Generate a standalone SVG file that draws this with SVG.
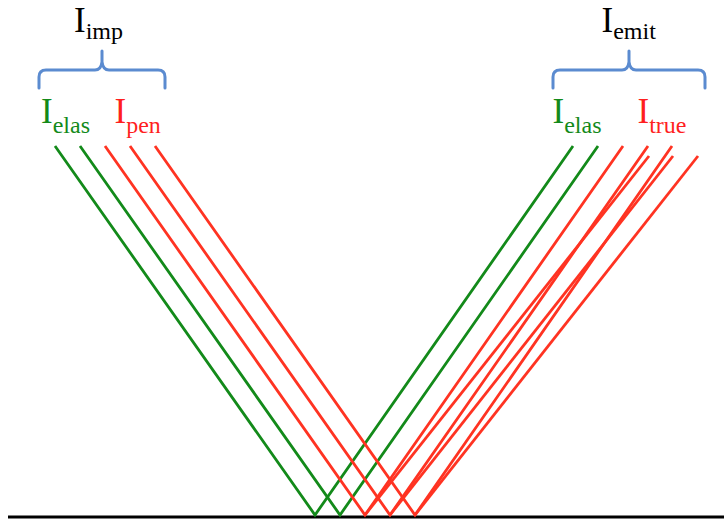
<svg xmlns="http://www.w3.org/2000/svg" width="724" height="522" viewBox="0 0 724 522">
<style>
.lbl{font-family:"Liberation Serif","Times New Roman",serif;font-size:35px}
.sub{font-size:24px}
.g{fill:#138a1a}
.r{fill:#ff1f1f}
.k{fill:#000}
.brace{fill:none;stroke:#5b8bd0;stroke-width:3;stroke-linecap:round;stroke-linejoin:round}
.lg{stroke:#138a1a;stroke-width:2.8;fill:none}
.lr{stroke:#ff3322;stroke-width:2.8;fill:none}
</style>
<rect width="724" height="522" fill="#fff"/>
<g id="label-imp">
<text class="lbl k" x="74" y="32">I<tspan class="sub" dy="7">imp</tspan></text>
<path class="brace" d="M39,88 V77 Q39,70 46,70 H95 Q101,70 102,62 V51 M102,62 Q103,70 109,70 H158 Q165,70 165,77 V88"/>
</g>
<g id="label-emit">
<text class="lbl k" x="601.5" y="32">I<tspan class="sub" dy="7">emit</tspan></text>
<path class="brace" d="M553,88 V77 Q553,70 560,70 H622 Q628,70 629,62 V51 M629,62 Q630,70 636,70 H698 Q705,70 705,77 V88"/>
</g>
<g id="label-elas-in"><text class="lbl g" x="41" y="123">I<tspan class="sub" dy="10">elas</tspan></text></g>
<g id="label-pen"><text class="lbl r" x="114.5" y="123">I<tspan class="sub" dy="10">pen</tspan></text></g>
<g id="label-elas-out"><text class="lbl g" x="552.5" y="123">I<tspan class="sub" dy="10">elas</tspan></text></g>
<g id="label-true"><text class="lbl r" x="637.5" y="123">I<tspan class="sub" dy="10">true</tspan></text></g>
<g id="surface"><line x1="8" y1="517" x2="724" y2="517" stroke="#000" stroke-width="3"/></g>
<g id="connectors">
<polyline class="lg" points="55,146 315,515 573,146"/>
<polyline class="lg" points="80,146 340,515 598,146"/>
<polyline class="lr" points="105,146 365,515 623,146"/>
<polyline class="lr" points="130,146 390,515 648,146"/>
<polyline class="lr" points="155,146 415,515 672,146"/>
<line class="lr" x1="365" y1="515" x2="649" y2="156"/>
<line class="lr" x1="390" y1="515" x2="673" y2="156"/>
<line class="lr" x1="415" y1="515" x2="698" y2="156"/>
</g>
</svg>
